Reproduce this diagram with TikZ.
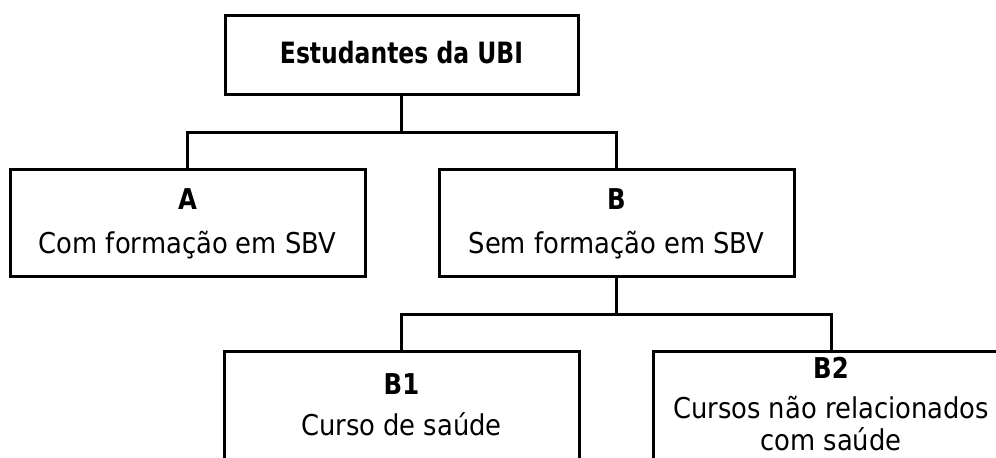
\documentclass[tikz,border=0pt]{standalone}
\usepackage{fontspec}
\setmainfont{DejaVu Sans}[FakeStretch=0.9]
\newfontfamily\topfont{DejaVu Sans}[FakeStretch=0.8]
\newfontfamily\hdrfont{DejaVu Sans}[FakeStretch=0.85]
\begin{document}
\begin{tikzpicture}[x=0.75pt,y=-0.75pt,
  box/.style={draw=black,line width=2.25pt,rectangle,inner sep=0pt,minimum width=266.25pt},
  lbl/.style={anchor=base,inner sep=0pt,font=\fontsize{21.5pt}{24pt}\selectfont},
  hdr/.style={anchor=base,inner sep=0pt,font=\hdrfont\fontsize{21.5pt}{24pt}\selectfont\bfseries},
  conn/.style={draw=black,line width=2.25pt}]
\useasboundingbox (0,0) rectangle (996,457);
\clip (0,0) rectangle (996,457);
\node[box,minimum width=264.75pt,minimum height=59.25pt] (top) at (401.5,54.5) {};
\node[box,minimum height=80.25pt] (A) at (187.5,222.5) {};
\node[box,minimum height=80.25pt] (B) at (616.5,222.5) {};
\node[box,minimum height=90pt] (B1) at (401.5,411) {};
\node[box,minimum width=267pt,minimum height=90pt] (B2) at (831,411) {};
\coordinate (j1) at (401.5,132);
\coordinate (j2) at (616.5,314);
\draw[conn] (top.south) -- (j1);
\draw[conn] (A.north) |- (j1) -| (B.north);
\draw[conn] (B.south) -- (j2);
\draw[conn] (B1.north) |- (j2) -| (B2.north);
\node[anchor=base,inner sep=0pt,font=\topfont\fontsize{22pt}{25pt}\selectfont\bfseries] (ttop) at (401.5,63) {Estudantes da UBI};
\node[hdr] (tA) at (187.5,209) {A};
\node[lbl] (tA2) at (187.5,253) {Com formação em SBV};
\node[hdr] (tB) at (616.5,209) {B};
\node[lbl] (tB2) at (616.5,253) {Sem formação em SBV};
\node[hdr] (tB1) at (401.5,394) {B1};
\node[lbl] (tB12) at (401.5,435) {Curso de saúde};
\node[hdr] (tB2) at (831,378) {B2};
\node[lbl] (tB22) at (831,418) {Cursos não relacionados};
\node[lbl] (tB23) at (831,450) {com saúde};
\end{tikzpicture}
\end{document}
